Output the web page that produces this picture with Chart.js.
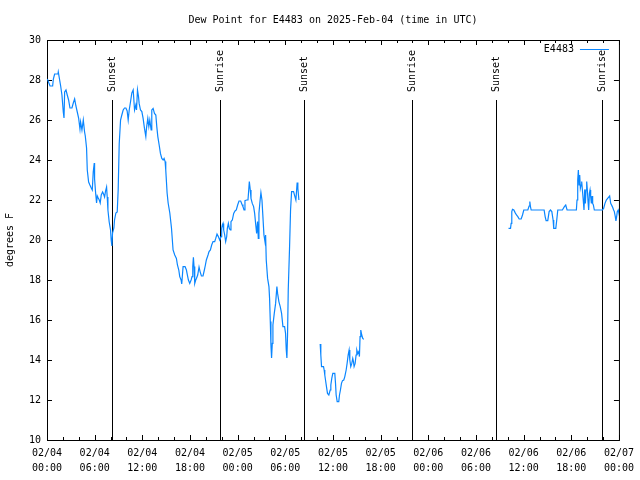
<!DOCTYPE html>
<html>
<head>
<meta charset="utf-8">
<script src="https://cdn.jsdelivr.net/npm/chart.js@4/dist/chart.umd.min.js"></script>
<style>
html, body { margin: 0; padding: 0; background: #fff; }
#wrap { width: 640px; height: 480px; }
</style>
</head>
<body>
<div id="wrap"><canvas id="dewChart" width="640" height="480"></canvas></div>
<script>
// [hours since 02/04 00:00 UTC, dew point °F]
const segDay1 = [
    [0.04,28.05],[0.38,27.7],[0.71,27.7],[0.80,28.05],[0.96,28.3],[1.38,28.3],[1.42,28.4],[1.55,28.1],[1.72,27.7],[1.88,27.25],
    [2.05,26.4],[2.14,26.1],[2.22,27.4],[2.39,27.5],[2.55,27.25],[2.72,27.0],[2.89,26.6],[3.14,26.6],[3.31,26.85],[3.48,27.05],
    [3.64,26.7],[3.81,26.4],[3.98,26.1],[4.15,25.55],[4.23,25.9],[4.40,25.5],[4.57,26.0],[4.73,25.4],[4.82,25.2],[4.98,24.6],
    [5.07,23.5],[5.24,22.9],[5.40,22.75],[5.57,22.6],[5.70,22.5],[5.82,23.4],[5.95,23.85],[5.99,23.05],[6.12,22.35],[6.24,21.85],
    [6.33,22.2],[6.45,22.1],[6.58,22.0],[6.70,21.85],[6.83,22.25],[7.00,22.4],[7.12,22.3],[7.25,22.15],[7.37,22.45],[7.50,22.65],
    [7.58,22.15],[7.67,21.5],[7.75,21.2],[7.83,20.9],[8.00,20.5],[8.08,20.0],[8.17,19.7],[8.25,20.35],[8.42,20.6],[8.50,21.0],
    [8.67,21.35],[8.84,21.4],[8.96,22.5],[9.09,24.8],[9.26,26.0],[9.42,26.25],[9.59,26.5],[9.76,26.6],[9.93,26.6],[10.09,26.45],
    [10.22,26.0],[10.35,26.5],[10.51,26.9],[10.68,27.35],[10.85,27.5],[11.02,26.5],[11.18,26.75],[11.27,26.5],[11.39,27.5],[11.52,27.17],
    [11.60,26.83],[11.77,26.5],[11.94,26.42],[12.10,26.08],[12.27,25.58],[12.44,25.17],[12.52,25.58],[12.69,26.08],[12.82,25.67],[12.94,26.0],
    [13.11,25.5],[13.19,26.5],[13.36,26.58],[13.53,26.33],[13.70,26.25],[13.82,25.67],[13.95,25.17],[14.12,24.75],[14.28,24.33],[14.45,24.08],
    [14.62,24.0],[14.74,24.08],[14.87,23.92],[14.95,23.5],[15.12,22.35],[15.25,21.85],[15.46,21.35],[15.67,20.6],[15.87,19.5],[16.08,19.25],
    [16.29,19.08],[16.42,18.75],[16.59,18.5],[16.71,18.17],[16.88,18.0],[16.96,17.8],[17.05,18.25],[17.13,18.67],[17.38,18.67],[17.55,18.5],
    [17.63,18.33],[17.80,18.0],[17.97,17.83],[18.14,18.0],[18.26,18.17],[18.35,18.67],[18.43,19.13],[18.51,18.67],[18.60,17.83],[18.72,18.0],
    [18.81,18.08],[18.97,18.25],[19.14,18.65],[19.27,18.42],[19.44,18.2],[19.64,18.2],[19.81,18.5],[19.94,18.75],[20.06,19.0],[20.27,19.25],
    [20.40,19.42],[20.57,19.5],[20.73,19.75],[20.90,19.92],[21.11,19.92],[21.24,20.08],[21.40,20.3],[21.57,20.17],[21.74,20.0],[21.91,20.17],
    [21.99,20.58],[22.07,20.75],[22.16,20.83],[22.24,20.5],[22.37,20.25],[22.49,19.92],[22.62,20.17],[22.70,20.58],[22.83,20.83],[22.95,20.58],
    [23.08,20.5],[23.16,20.92],[23.33,21.0],[23.50,21.33],[23.67,21.45],[23.83,21.5],[24.00,21.75],[24.17,21.95],[24.38,21.95],[24.55,21.78],
    [24.67,21.67],[24.80,21.5],[24.92,21.97],[25.13,22.0],[25.30,22.0],[25.38,22.42],[25.47,22.92],[25.59,22.5],[25.68,22.08],[25.84,21.83],
    [26.01,21.67],[26.14,21.33],[26.26,20.83],[26.39,20.33],[26.51,20.92],[26.60,20.08],[26.68,21.33],[26.81,21.92],[26.93,22.37],[27.06,22.0],
    [27.18,21.17],[27.31,20.25],[27.44,19.92],[27.52,20.25],[27.60,19.0],[27.77,18.08],[27.94,17.67],[28.02,17.08],[28.11,15.92],[28.19,14.75],
    [28.27,14.1],[28.36,14.83],[28.44,15.75],[28.61,16.33],[28.78,16.83],[28.94,17.67],[29.03,17.33],[29.19,16.92],[29.36,16.67],[29.53,16.33],
    [29.70,15.67],[29.91,15.67],[30.03,15.33],[30.12,14.5],[30.20,14.1],[30.28,15.25],[30.37,17.5],[30.53,19.58],[30.66,21.5],[30.79,22.42],
    [31.04,22.42],[31.21,22.17],[31.33,22.0],[31.41,22.42],[31.49,22.87],[31.58,22.58],[31.71,22.0]
];
const segDay2 = [
    [34.39,14.8],[34.47,14.25],[34.56,13.67],[34.81,13.67],[34.89,13.5],[34.97,13.25],[35.06,13.0],[35.18,12.67],[35.31,12.33],[35.48,12.25],
    [35.65,12.5],[35.73,12.75],[35.85,13.08],[35.98,13.33],[36.23,13.33],[36.32,12.83],[36.40,12.25],[36.53,11.92],[36.73,11.92],[36.82,12.25],
    [36.94,12.5],[37.07,12.83],[37.20,12.97],[37.36,13.0],[37.49,13.17],[37.66,13.5],[37.78,13.83],[37.91,14.25],[38.03,14.5],[38.12,14.0],
    [38.24,13.67],[38.37,13.83],[38.49,14.08],[38.58,13.92],[38.66,13.67],[38.79,13.83],[38.91,14.25],[39.00,14.5],[39.12,14.33],[39.25,14.42],
    [39.33,14.17],[39.41,15.17],[39.50,15.5],[39.62,15.25],[39.75,15.08],[39.87,15.03]
];
const segDay3 = [
    [58.10,20.58],[58.35,20.58],[58.43,20.83],[58.51,21.42],[58.60,21.53],[58.77,21.5],[58.93,21.37],[59.10,21.25],[59.27,21.17],[59.44,21.05],
    [59.69,21.05],[59.86,21.25],[60.02,21.5],[60.19,21.5],[60.53,21.5],[60.69,21.7],[60.78,21.92],[60.86,21.67],[60.95,21.5],[62.58,21.5],
    [62.71,21.17],[62.83,20.97],[63.04,20.97],[63.21,21.42],[63.38,21.5],[63.55,21.42],[63.71,21.0],[63.79,20.58],[64.05,20.58],[64.17,21.0],
    [64.30,21.5],[64.88,21.5],[65.13,21.67],[65.30,21.75],[65.47,21.5],[66.64,21.5],[66.72,22.0],[66.81,23.0],[66.89,23.5],[66.98,22.75],
    [67.06,23.25],[67.14,22.58],[67.23,22.75],[67.31,22.92],[67.40,22.5],[67.52,21.92],[67.60,21.5],[67.69,22.53],[67.77,21.83],[67.86,22.5],
    [67.94,22.92],[68.02,22.5],[68.11,21.92],[68.19,21.5],[68.28,22.33],[68.36,22.5],[68.44,22.17],[68.53,21.83],[68.61,22.2],[68.69,21.83],
    [68.78,21.75],[68.90,21.5],[69.91,21.5],[70.07,21.58],[70.24,21.83],[70.41,22.0],[70.58,22.08],[70.83,22.2],[70.96,21.83],[71.17,21.67],
    [71.33,21.5],[71.42,21.42],[71.54,21.17],[71.62,20.95],[71.71,21.17],[71.79,21.42],[71.91,21.5],[72.0,21.33]
];
const eventHours = [8.17, 21.74, 32.33, 45.92, 56.5, 69.91];
const eventNames = ['Sunset', 'Sunrise', 'Sunset', 'Sunrise', 'Sunset', 'Sunrise'];
const eventTop = 27; // degrees F where the marker lines start
const xTicks = [0, 6, 12, 18, 24, 30, 36, 42, 48, 54, 60, 66, 72];
const yTicks = [10, 12, 14, 16, 18, 20, 22, 24, 26, 28, 30];
const seriesName = 'E4483';
const chartTitle = 'Dew Point for E4483 on 2025-Feb-04 (time in UTC)';

(function () {
    const FONT = '"DejaVu Sans Mono", "Liberation Mono", monospace';
    const LINE = '#0a86ff';
    const toPts = seg => seg.map(p => ({ x: p[0], y: p[1] }));
    const points = [
        ...toPts(segDay1), { x: 33, y: null },
        ...toPts(segDay2), { x: 48, y: null },
        ...toPts(segDay3)
    ];

    const fmtTick = v => {
        const day = 4 + Math.floor(v / 24);
        const hr = v % 24;
        return ['02/0' + day, String(hr).padStart(2, '0') + ':00'];
    };

    const framePlugin = {
        id: 'frame',
        beforeDatasetsDraw(chart) {
            const { ctx, chartArea: a, scales: { x, y } } = chart;
            ctx.save();
            ctx.strokeStyle = '#000';
            ctx.fillStyle = '#000';
            ctx.lineWidth = 1;

            // sunrise / sunset markers
            ctx.font = '10px ' + FONT;
            ctx.textAlign = 'left';
            ctx.textBaseline = 'middle';
            const top = Math.round(y.getPixelForValue(eventTop));
            eventHours.forEach((h, i) => {
                const px = Math.round(x.getPixelForValue(h)) + 0.5;
                ctx.beginPath();
                ctx.moveTo(px, top);
                ctx.lineTo(px, a.bottom);
                ctx.stroke();
                ctx.save();
                ctx.translate(px, top - 8);
                ctx.rotate(-Math.PI / 2);
                ctx.fillText(eventNames[i], 0, 0);
                ctx.restore();
            });

            // border
            ctx.strokeRect(a.left + 0.5, a.top + 0.5, a.right - a.left, a.bottom - a.top);

            // inward ticks
            ctx.beginPath();
            for (let h = 0; h <= 72; h += 2) {
                const px = Math.round(x.getPixelForValue(h)) + 0.5;
                const len = h % 6 === 0 ? 5 : 3;
                ctx.moveTo(px, a.bottom); ctx.lineTo(px, a.bottom - len);
                ctx.moveTo(px, a.top); ctx.lineTo(px, a.top + len);
            }
            yTicks.forEach(v => {
                const py = Math.round(y.getPixelForValue(v)) + 0.5;
                ctx.moveTo(a.left, py); ctx.lineTo(a.left + 5, py);
                ctx.moveTo(a.right, py); ctx.lineTo(a.right - 5, py);
            });
            ctx.stroke();
            ctx.restore();
        },
        afterDatasetsDraw(chart) {
            const { ctx, chartArea: a } = chart;
            ctx.save();
            ctx.font = '10px ' + FONT;
            ctx.fillStyle = '#000';
            ctx.textAlign = 'right';
            ctx.textBaseline = 'middle';
            ctx.fillText(seriesName, a.right - 45, a.top + 9);
            ctx.strokeStyle = LINE;
            ctx.lineWidth = 1;
            ctx.beginPath();
            ctx.moveTo(a.right - 39, a.top + 9.5);
            ctx.lineTo(a.right - 10, a.top + 9.5);
            ctx.stroke();
            ctx.restore();
        }
    };

    new Chart(document.getElementById('dewChart').getContext('2d'), {
        type: 'line',
        data: {
            datasets: [{
                label: seriesName,
                data: points,
                borderColor: LINE,
                borderWidth: 1.2,
                pointRadius: 0,
                tension: 0,
                spanGaps: false,
                fill: false
            }]
        },
        options: {
            responsive: false,
            animation: false,
            devicePixelRatio: 1,
            layout: { padding: { left: 0, right: 20, top: 0, bottom: 0 } },
            plugins: {
                legend: { display: false },
                tooltip: { enabled: false },
                title: {
                    display: true,
                    fullSize: false,
                    text: chartTitle,
                    color: '#000',
                    font: { family: FONT, size: 10, weight: 'normal', lineHeight: 1.2 },
                    padding: { top: 14, bottom: 14 }
                }
            },
            scales: {
                x: {
                    type: 'linear',
                    min: 0,
                    max: 72,
                    afterFit: s => { s.height = 40; },
                    afterBuildTicks: s => { s.ticks = xTicks.map(v => ({ value: v })); },
                    grid: { display: false, drawTicks: false },
                    border: { display: false },
                    ticks: {
                        color: '#000',
                        font: { family: FONT, size: 10, lineHeight: 1.5 },
                        padding: 6,
                        maxRotation: 0,
                        autoSkip: false,
                        callback: v => fmtTick(v)
                    }
                },
                y: {
                    min: 10,
                    max: 30,
                    afterFit: s => { s.width = 47; },
                    afterBuildTicks: s => { s.ticks = yTicks.map(v => ({ value: v })); },
                    grid: { display: false, drawTicks: false },
                    border: { display: false },
                    ticks: {
                        color: '#000',
                        font: { family: FONT, size: 10 },
                        padding: 6
                    },
                    title: {
                        display: true,
                        text: 'degrees F',
                        color: '#000',
                        font: { family: FONT, size: 10, lineHeight: 1.2 },
                        padding: { top: 4, bottom: 0 }
                    }
                }
            }
        },
        plugins: [framePlugin]
    });
})();
</script>
</body>
</html>
